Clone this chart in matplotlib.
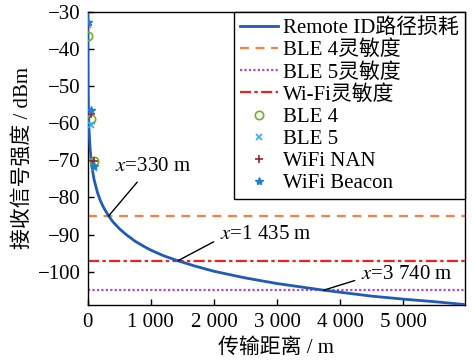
import matplotlib
matplotlib.use("Agg")
import matplotlib.pyplot as plt
from matplotlib.ticker import FuncFormatter

plt.rcParams['font.family'] = ['Liberation Serif', 'Noto Sans CJK SC', 'DejaVu Sans']
plt.rcParams['mathtext.fontset'] = 'stix'
plt.rcParams['axes.unicode_minus'] = True

# Path-loss curve (distance m, RSSI dBm)
curve_d = [0.45, 1, 2, 5, 10, 20, 35, 50, 75, 100, 150, 200, 250, 330, 400, 500,
           600, 750, 900, 1000, 1200, 1435, 1700, 2000, 2500, 3000, 3740,
           4500, 5000, 5500, 6000]
curve_rssi = [-30.6, -37.2, -42.9, -50.4, -56.2, -61.9, -66.5, -69.4, -72.8,
              -75.2, -78.5, -80.9, -82.7, -85.0, -86.6, -88.4, -89.9, -91.8,
              -93.3, -94.2, -95.7, -97.1, -98.5, -99.9, -101.7, -103.2,
              -105.0, -106.6, -107.4, -108.1, -108.9]

ble4_sens = -85
ble5_sens = -105
wifi_sens = -97

meas_d = [10, 50, 100]
ble4 = [-36.6, -58.9, -70.1]
ble5 = [-33.5, -60.4, -72.0]
wifi_nan = [-33.6, -57.4, -70.2]
wifi_beacon = [-32.8, -56.5, -71.6]

annot_x = [330, 1435, 3740]
annot_y = [-85, -97, -105]
annot_labels = ['$x$=330 m', '$x$=1 435 m', '$x$=3 740 m']
annot_text_pos = [(430, -71.7), (2100, -90.0), (4340, -100.8)]

xticks = [0, 1000, 2000, 3000, 4000, 5000]
yticks = [-30, -40, -50, -60, -70, -80, -90, -100]

fs = 15

fig = plt.figure(figsize=(4.72, 3.61), dpi=100)
ax = fig.add_axes([0.186, 0.155, 0.799, 0.812])

ax.plot(curve_d, curve_rssi, color='#1f5bb8', lw=2.0, label='Remote ID路径损耗', zorder=3)
ax.axhline(ble4_sens, color='#ff7f3a', lw=1.6, ls=(0, (4, 3)), label='BLE 4灵敏度')
ax.axhline(ble5_sens, color='#b04cc0', lw=1.6, ls=(0, (1, 1)), label='BLE 5灵敏度')
ax.axhline(wifi_sens, color='#ee2222', lw=1.6, ls=(0, (5, 1.5, 1.5, 1.5)), label='Wi-Fi灵敏度')
ax.plot(meas_d, ble4, ls='none', marker='o', mfc='none', mec='#70b030', ms=6, mew=1.2, label='BLE 4', zorder=4)
ax.plot(meas_d, ble5, ls='none', marker='x', color='#30b0f0', ms=5, mew=1.2, label='BLE 5', zorder=4)
ax.plot(meas_d, wifi_nan, ls='none', marker='+', color='#a02030', ms=6, mew=1.2, label='WiFi NAN', zorder=4)
ax.plot(meas_d, wifi_beacon, ls='none', marker='*', color='#2080d8', ms=6, label='WiFi Beacon', zorder=4)

relposes = [(0.36, 0.0), (0.0, 0.3), (0.0, 0.3)]
for xv, yv, lab, pos, rp in zip(annot_x, annot_y, annot_labels, annot_text_pos, relposes):
    ax.annotate(lab, xy=(xv, yv), xytext=pos, ha='left', va='center', fontsize=fs,
                arrowprops=dict(arrowstyle='-', color='black', lw=1.0,
                                relpos=rp, shrinkA=3, shrinkB=0))

ax.set_xlim(0, 5980)
ax.set_ylim(-109, -30)
ax.set_xticks(xticks)
ax.set_yticks(yticks)
ax.xaxis.set_major_formatter(FuncFormatter(lambda v, p: f"{int(v):,}".replace(',', ' ')))
ax.tick_params(direction='in', labelsize=fs, length=4, width=1)
ax.tick_params(axis='x', pad=6)
ax.tick_params(axis='y', pad=5)
for s in ax.spines.values():
    s.set_linewidth(1.0)
ax.set_xlabel('传输距离 / m', fontsize=fs, labelpad=4)
ax.set_ylabel('接收信号强度 / dBm', fontsize=fs, labelpad=4)

leg = ax.legend(loc='upper right', fontsize=fs, borderaxespad=0, frameon=True, fancybox=False,
                edgecolor='black', framealpha=1, handlelength=1.8, handletextpad=0.25,
                labelspacing=0.12, borderpad=0.3)
leg.get_frame().set_linewidth(1.0)

fig.savefig('out.png', dpi=100)
